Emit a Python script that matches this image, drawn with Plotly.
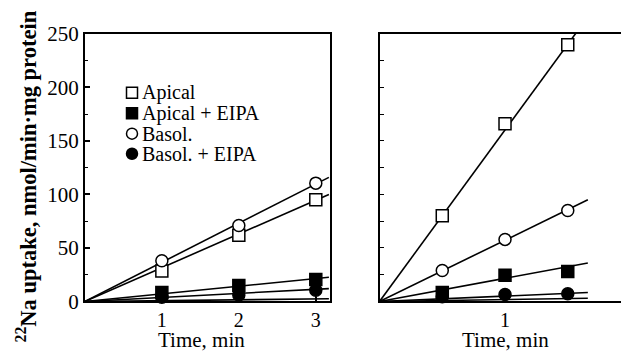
import plotly.graph_objects as go

W, H = 629, 353
FONT = "Times New Roman, Liberation Serif, serif"

# ---------------- data ----------------
series_names = ["Apical", "Apical + EIPA", "Basol.", "Basol. + EIPA"]

# left panel (time in min)
t_left = [1, 2, 3]
apical_L = [28.5, 62, 95]
apical_eipa_L = [8.4, 15, 20.6]
basol_L = [38, 71, 110.6]
basol_eipa_L = [4, 6, 10.4]
basol_eipa_L_err = [0, 0, 8.5]

# right panel
t_right = [0.5, 1.0, 1.5]
apical_R = [80, 166, 240]
apical_eipa_R = [8.4, 24.4, 28]
basol_R = [29, 58, 85]
basol_eipa_R = [4.5, 6.5, 7.2]

# fitted regression lines (start, end)
fit_x_L = [0, 3.17]
fit_L = {"Apical": [0, 100], "Apical + EIPA": [0, 22.6], "Basol.": [0, 116],
         "Basol. + EIPA": [0, 12], "baseline": [0, 2.5]}
fit_x_R = [0, 1.66]
fit_R = {"Apical": [0, 266], "Apical + EIPA": [0, 36], "Basol.": [0, 95],
         "Basol. + EIPA": [0, 8.4], "baseline": [0, 3]}

y_ticks = [0, 50, 100, 150, 200, 250]
x_ticks_L = [1, 2, 3]
x_ticks_R = [1, 2]

x_title = "Time, min"
y_title = "<b><sup>22</sup>Na uptake, nmol/min·mg protein</b>"

# ---------------- styles ----------------
style = {
    "Apical": dict(symbol="square", color="white"),
    "Apical + EIPA": dict(symbol="square", color="black"),
    "Basol.": dict(symbol="circle", color="white"),
    "Basol. + EIPA": dict(symbol="circle", color="black"),
}

fig = go.Figure()

def add_lines(xs, fits, xa, ya):
    for name, ys in fits.items():
        fig.add_trace(go.Scatter(x=xs, y=ys, mode="lines", xaxis=xa, yaxis=ya,
                                 line=dict(color="black", width=1.6),
                                 showlegend=False, hoverinfo="skip"))

def add_markers(xs, ys, name, xa, ya, err=None):
    st = style[name]
    kw = {}
    if err is not None:
        kw["error_y"] = dict(type="data", array=err, color="black", thickness=1.5, width=0)
    fig.add_trace(go.Scatter(x=xs, y=ys, mode="markers", xaxis=xa, yaxis=ya, name=name,
                             marker=dict(symbol=st["symbol"], size=12, color=st["color"],
                                         line=dict(color="black", width=1.5)),
                             showlegend=False, cliponaxis=False, **kw))

add_lines(fit_x_L, fit_L, "x", "y")
add_lines(fit_x_R, fit_R, "x2", "y2")

add_markers(t_left, basol_eipa_L, "Basol. + EIPA", "x", "y", err=basol_eipa_L_err)
add_markers(t_left, apical_eipa_L, "Apical + EIPA", "x", "y")
add_markers(t_left, apical_L, "Apical", "x", "y")
add_markers(t_left, basol_L, "Basol.", "x", "y")

add_markers(t_right, basol_eipa_R, "Basol. + EIPA", "x2", "y2")
add_markers(t_right, apical_eipa_R, "Apical + EIPA", "x2", "y2")
add_markers(t_right, apical_R, "Apical", "x2", "y2")
add_markers(t_right, basol_R, "Basol.", "x2", "y2")

ydom = [51 / H, 338 / H]
axis_common = dict(showline=True, linecolor="black", linewidth=2, mirror=True,
                   showgrid=False, zeroline=False, ticks="inside", tickcolor="black",
                   ticklabeloverflow="allow")
XTF = dict(family=FONT, size=20, color="black")
YTF = dict(family=FONT, size=21, color="black")

fig.update_layout(
    width=W, height=H, margin=dict(l=0, r=0, t=0, b=0),
    paper_bgcolor="white", plot_bgcolor="white", showlegend=False,
    font=dict(family=FONT, color="black", size=20),
    xaxis=dict(axis_common, domain=[77.5 / W, 325 / W], range=[0, 3.19], tickfont=XTF,
               tickvals=x_ticks_L, ticklen=4, tickwidth=1.5, ticklabelstandoff=0),
    yaxis=dict(axis_common, domain=ydom, range=[0, 250], tickvals=y_ticks, tickfont=YTF,
               ticklen=5, tickwidth=1.5, ticklabelstandoff=0,
               minor=dict(dtick=25, ticks="inside", ticklen=3, tickcolor="black", tickwidth=1.2)),
    xaxis2=dict(axis_common, anchor="y2", domain=[374.5 / W, 627.5 / W], range=[0, 2],
                tickfont=XTF, tickvals=x_ticks_R, ticklen=0, ticklabelstandoff=0),
    yaxis2=dict(axis_common, anchor="x2", domain=ydom, range=[0, 250], dtick=25,
                showticklabels=False, ticklen=4, tickwidth=1.2),
)

# axis titles
for xc in (195, 501.5):
    fig.add_annotation(xref="paper", yref="paper", x=xc / W, y=1 - 343 / H,
                       text=x_title, showarrow=False, xanchor="center", yanchor="middle",
                       font=dict(family=FONT, size=21, color="black"))
fig.add_annotation(xref="paper", yref="paper", x=18 / W, y=1 - 168 / H,
                   text=y_title, textangle=-90, showarrow=False,
                   xanchor="center", yanchor="middle",
                   font=dict(family=FONT, size=22.5, color="black"))

# legend (keys as shapes, labels as text)
row_y = [78, 100, 122, 143.5]
key_x = 125
for name, ry in zip(series_names, row_y):
    st = style[name]
    yc = 1 - ry / H
    fig.add_shape(type="rect" if st["symbol"] == "square" else "circle",
                  xref="paper", yref="paper", xsizemode="pixel", ysizemode="pixel",
                  xanchor=key_x / W, yanchor=yc, x0=-5.5, x1=5.5, y0=-5.5, y1=5.5,
                  line=dict(color="black", width=1.5), fillcolor=st["color"])
    fig.add_annotation(xref="paper", yref="paper", x=133 / W, y=yc, text=name,
                       showarrow=False, xanchor="left", yanchor="middle",
                       font=dict(family=FONT, size=20, color="black"))

fig.write_html("out.html")
